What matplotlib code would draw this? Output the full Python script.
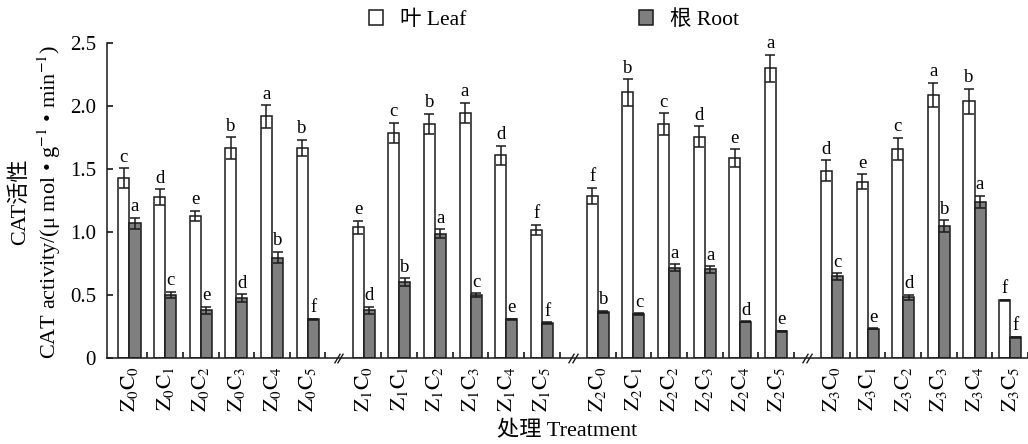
import matplotlib
matplotlib.use("Agg")
import matplotlib.pyplot as plt
import numpy as np
from matplotlib.patches import Patch

plt.rcParams['font.family'] = ['Liberation Serif', 'Noto Sans CJK SC']
plt.rcParams['mathtext.fontset'] = 'stix'

groups = ['Z0', 'Z1', 'Z2', 'Z3']
treatments = ['C0', 'C1', 'C2', 'C3', 'C4', 'C5']
tick_labels = [r'$\mathrm{Z_{%d}C_{%d}}$' % (g, c) for g in range(4) for c in range(6)]

leaf = [1.43, 1.28, 1.13, 1.67, 1.92, 1.67,
        1.04, 1.79, 1.86, 1.95, 1.61, 1.02,
        1.29, 2.11, 1.86, 1.76, 1.59, 2.30,
        1.49, 1.40, 1.66, 2.09, 2.04, 0.46]
leaf_err = [0.08, 0.06, 0.04, 0.085, 0.09, 0.065,
            0.05, 0.08, 0.08, 0.08, 0.075, 0.04,
            0.065, 0.105, 0.085, 0.08, 0.07, 0.11,
            0.08, 0.06, 0.09, 0.095, 0.10, 0.005]
root = [1.07, 0.505, 0.38, 0.48, 0.80, 0.31,
        0.38, 0.605, 0.99, 0.50, 0.31, 0.28,
        0.37, 0.35, 0.72, 0.705, 0.29, 0.215,
        0.65, 0.235, 0.485, 1.05, 1.24, 0.167]
root_err = [0.045, 0.025, 0.03, 0.03, 0.045, 0.005,
            0.03, 0.03, 0.035, 0.015, 0.005, 0.005,
            0.008, 0.008, 0.025, 0.025, 0.005, 0.005,
            0.025, 0.005, 0.02, 0.045, 0.05, 0.005]
leaf_letters = list('cdebab' + 'ecbadf' + 'fbcdea' + 'decabf')
root_letters = list('acedbf' + 'dbacef' + 'bcaade' + 'cedbaf')

group_step = 6.57
pos = np.array([g * group_step + i for g in range(4) for i in range(6)])
w = 0.31

fig = plt.figure(figsize=(10.28, 4.44), dpi=100)
ax = fig.add_axes([107/1028, 1 - 358.3/444, 1 - 107/1028, (358.3 - 43.3)/444])

ek = dict(ecolor='#1a1a1a', elinewidth=1.1, capsize=3.3, capthick=1.1)
ax.bar(pos - w/2, leaf, w, color='white', edgecolor='#1a1a1a', linewidth=1.1,
       yerr=leaf_err, error_kw=ek, zorder=2)
ax.bar(pos + w/2, root, w, color='#7f7f7f', edgecolor='#1a1a1a', linewidth=1.1,
       yerr=root_err, error_kw=ek, zorder=2)

for x, v, e, t in zip(pos - w/2, leaf, leaf_err, leaf_letters):
    ax.text(x, v + e + 0.02, t, ha='center', va='bottom', fontsize=13.5)
for x, v, e, t in zip(pos + w/2, root, root_err, root_letters):
    ax.text(x, v + e + 0.02, t, ha='center', va='bottom', fontsize=13.5)

ax.set_xlim(-0.63, 25.1)
ax.set_ylim(0, 2.5)
ax.set_yticks([0, 0.5, 1.0, 1.5, 2.0, 2.5])
ax.set_yticklabels(['0', '0.5', '1.0', '1.5', '2.0', '2.5'])
ax.set_xticks(pos)
ax.set_xticklabels(tick_labels, rotation=90, fontsize=15.5)
ax.tick_params(axis='x', length=0, pad=6)
ax.tick_params(axis='y', direction='in', length=4.5, width=1.1, labelsize=15, pad=8)
ax.set_xticks(pos + 0.5, minor=True)
ax.tick_params(axis='x', which='minor', direction='in', length=4.5, width=1.1)
for s in ['top', 'right']:
    ax.spines[s].set_visible(False)
for s in ['left', 'bottom']:
    ax.spines[s].set_linewidth(1.1)
    ax.spines[s].set_color('#1a1a1a')

# axis break marks
trans = ax.get_xaxis_transform()
for g in range(3):
    bx = g * group_step + 5 + 0.87
    for dx in (-0.05, 0.05):
        ax.plot([bx + dx], [0], transform=trans, marker=[(-0.6, -1), (0.6, 1)],
                markersize=7, markeredgewidth=1.0, color='#1a1a1a', clip_on=False, zorder=5)

fig.text(20/1028, 1 - 202/444, 'CAT活性', rotation=90, ha='center', va='center', fontsize=16)
fig.text(49/1028, 1 - 202/444, r'CAT activity/(μ mol • g$^{-1}$ • min$^{-1}$)', rotation=90,
         ha='center', va='center', fontsize=16)
fig.text(567.5/1028, 1 - 431/444, '处理 Treatment', ha='center', va='center', fontsize=16)

handles = [Patch(facecolor='white', edgecolor='#1a1a1a', linewidth=1.1),
           Patch(facecolor='#7f7f7f', edgecolor='#1a1a1a', linewidth=1.1)]
fig.legend(handles, ['叶 Leaf', '根 Root'], loc='center', bbox_to_anchor=(554/1028, 1 - 20/444),
           ncol=2, frameon=False, fontsize=15.5, handlelength=0.65, handleheight=0.65,
           handletextpad=0.8, columnspacing=8.0)

fig.savefig('out.png', dpi=100)
